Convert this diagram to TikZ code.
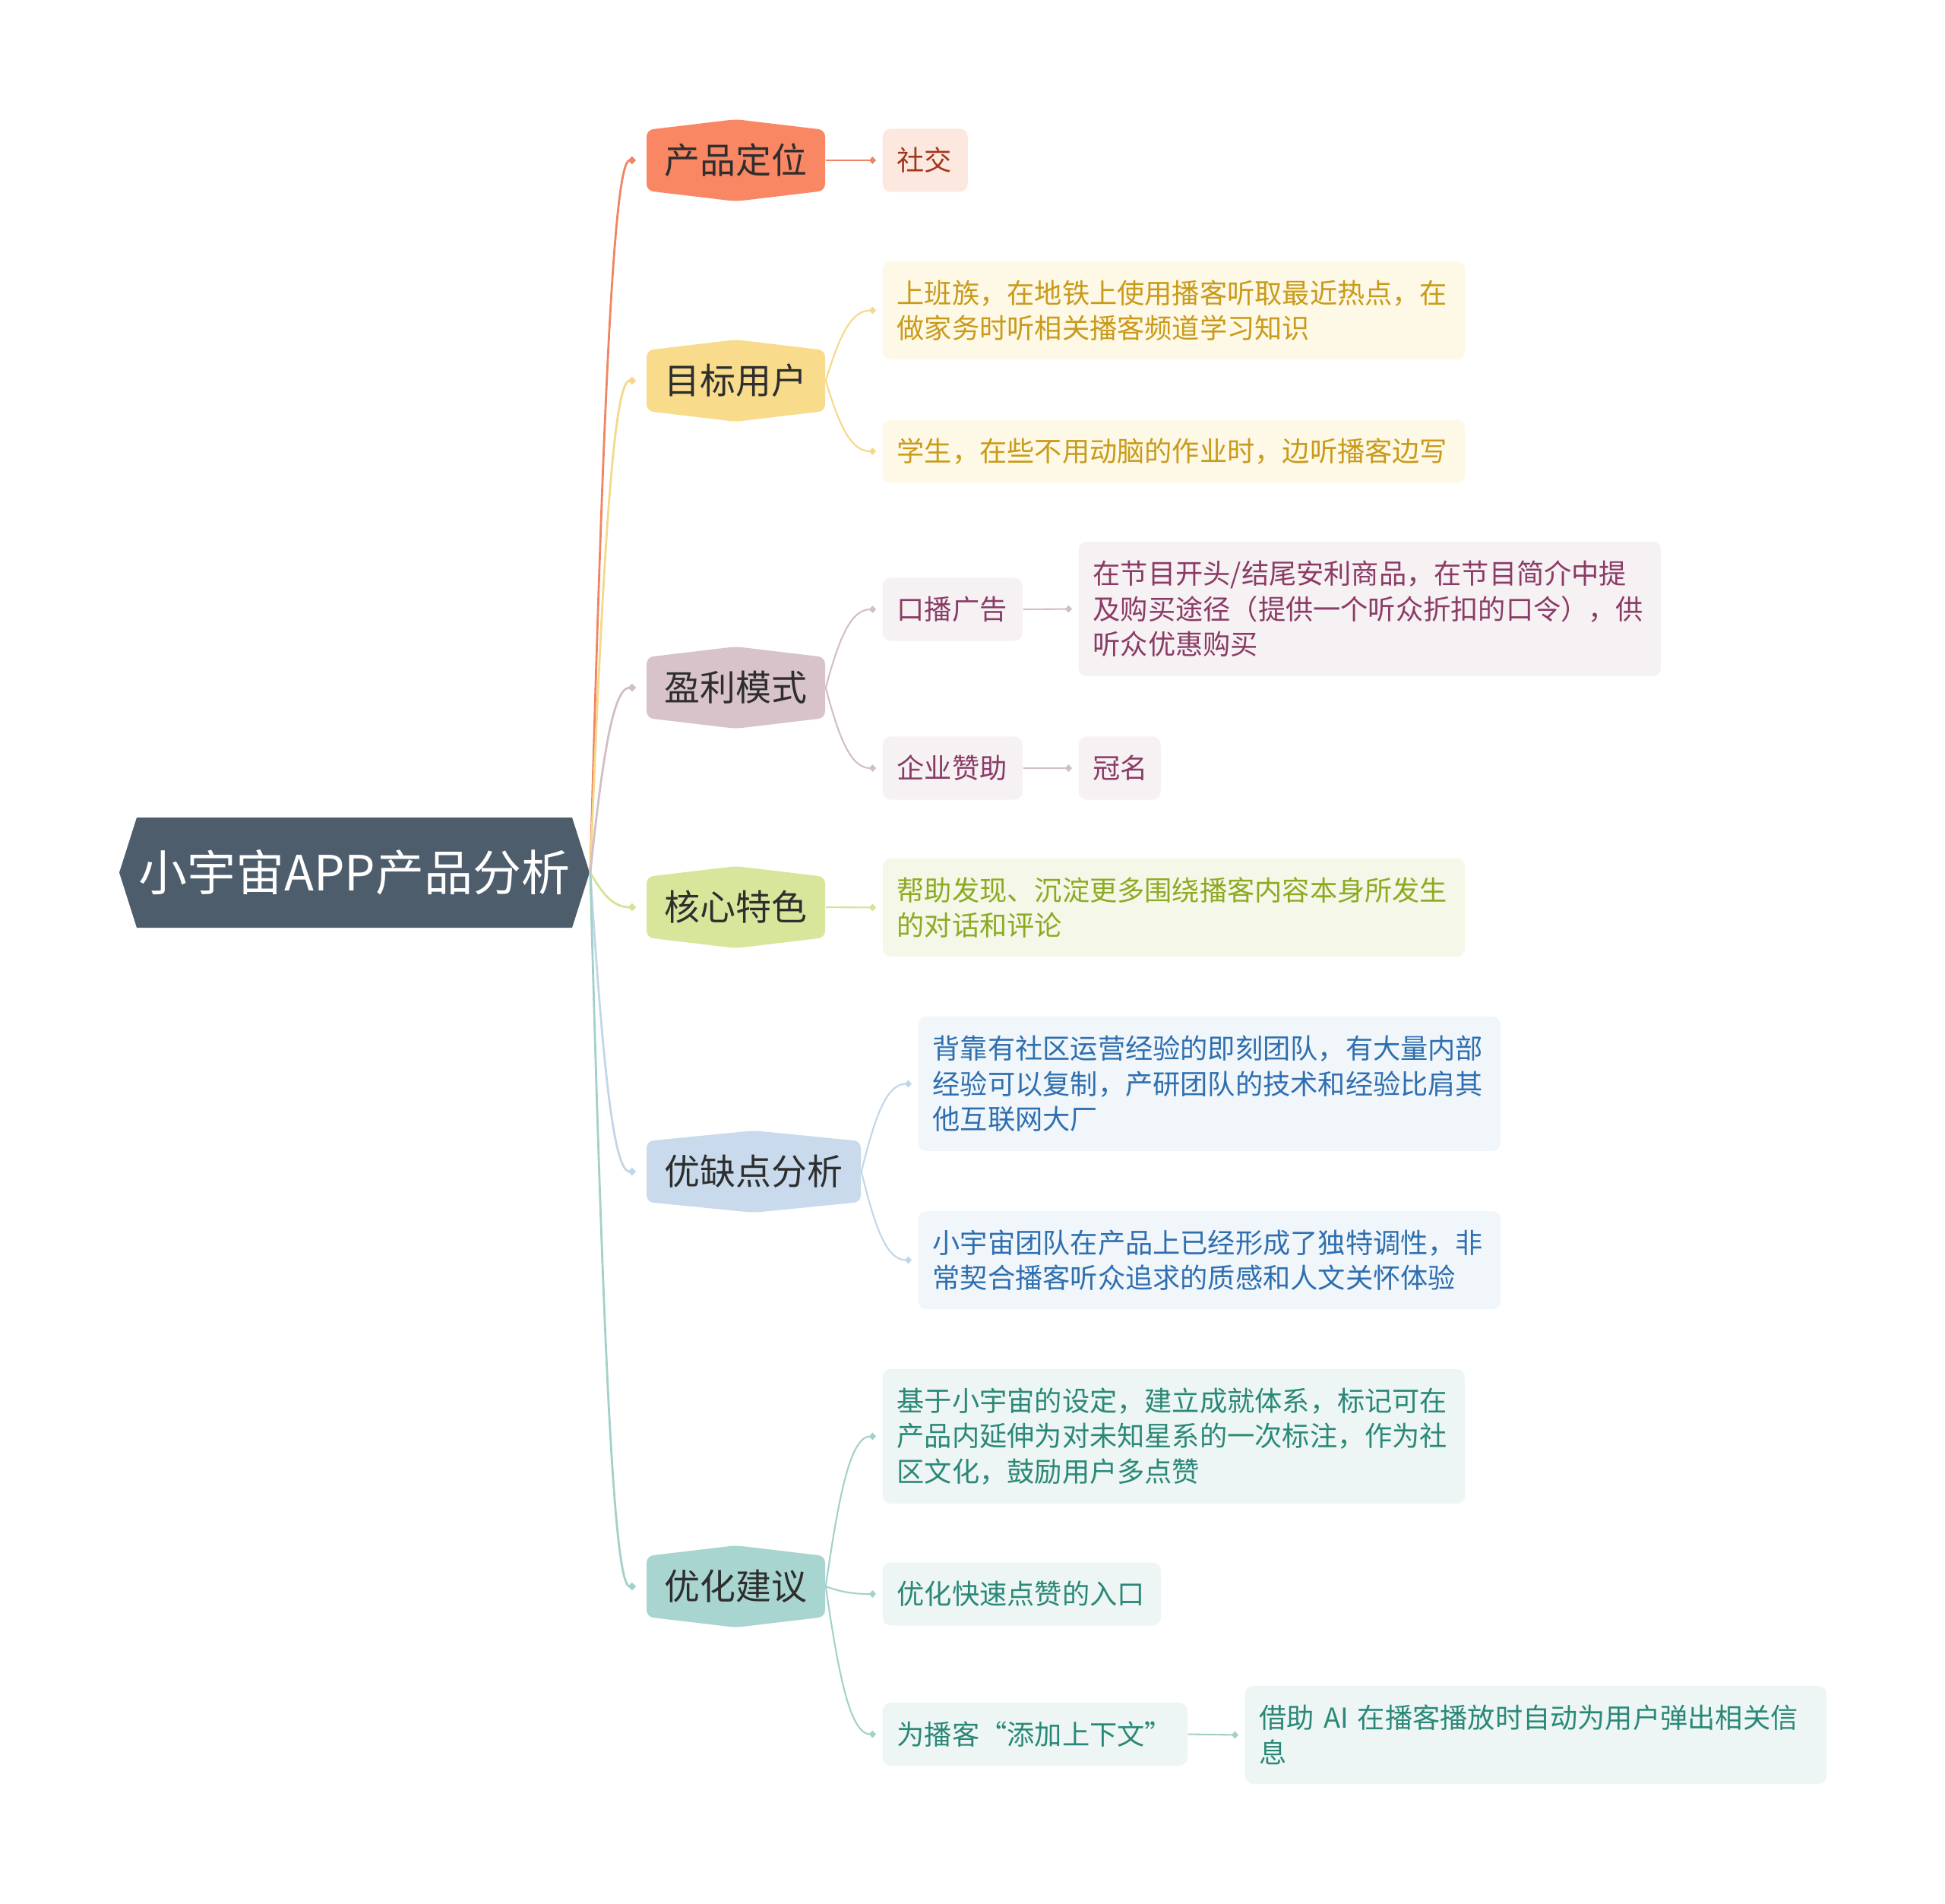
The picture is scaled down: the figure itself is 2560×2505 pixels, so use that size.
\documentclass[tikz,border=0pt]{standalone}
\usepackage{fontspec}
\setmainfont{Noto Sans CJK SC}
\usetikzlibrary{arrows.meta,calc}
\definecolor{rootc}{HTML}{4D5D6B}
\definecolor{maintext}{HTML}{2E2E2E}
\definecolor{f1}{HTML}{FA8764}
\definecolor{f2}{HTML}{F8DC8C}
\definecolor{f3}{HTML}{D8C3CB}
\definecolor{f4}{HTML}{D8E69B}
\definecolor{f5}{HTML}{C8DAEB}
\definecolor{f6}{HTML}{A8D5CF}
\definecolor{k1}{HTML}{F08565}
\definecolor{k2}{HTML}{F5D88A}
\definecolor{k3}{HTML}{D2BEC6}
\definecolor{k4}{HTML}{D4E398}
\definecolor{k5}{HTML}{C2D6E8}
\definecolor{k6}{HTML}{A3D1CA}
\definecolor{l1}{HTML}{FDE8E0}
\definecolor{l2}{HTML}{FEF8E6}
\definecolor{l3}{HTML}{F6F1F3}
\definecolor{l4}{HTML}{F5F8E9}
\definecolor{l5}{HTML}{F1F6FA}
\definecolor{l6}{HTML}{EDF6F4}
\definecolor{t1}{HTML}{A2361C}
\definecolor{t2}{HTML}{C99B1A}
\definecolor{t3}{HTML}{8A3B66}
\definecolor{t4}{HTML}{8CAA22}
\definecolor{t5}{HTML}{2F6FB0}
\definecolor{t6}{HTML}{2B8878}
\newcommand{\hexfill}[4]{\fill[#1, rounded corners=2.5pt] (#2,#3-40) -- (#2+#4/2,#3-54) -- (#2+#4,#3-40) -- (#2+#4,#3+40) -- (#2+#4/2,#3+54) -- (#2,#3+40) -- cycle;}
\begin{document}
\begin{tikzpicture}[x=0.01cm,y=-0.01cm,
  mainnode/.style={inner sep=0pt, minimum height=1.08cm, font=\fontsize{13.35pt}{16pt}\selectfont, text=maintext},
  leaf/.style={rounded corners=3pt, inner xsep=0.19cm, inner ysep=0pt, anchor=west, align=left, font=\fontsize{10.3pt}{13.2pt}\selectfont},
  oneline/.style={minimum height=0.83cm},
  twoline/.style={minimum height=1.29cm},
  threeline/.style={minimum height=1.77cm},
  rconn/.style={line width=0.8pt, -{Diamond[length=3pt,width=3pt]}},
  cconn/.style={line width=0.6pt, -{Diamond[length=2.6pt,width=2.8pt]}}
]
\useasboundingbox (0,0) rectangle (2560,2505);
% root
\fill[rootc] (157,1148.5) -- (180,1076) -- (753,1076) -- (776,1148.5) -- (753,1221) -- (180,1221) -- cycle;
\node[inner sep=0pt, minimum width=6.19cm, minimum height=1.45cm, text=white, font=\fontsize{18.2pt}{22pt}\selectfont] (root) at (466.5,1148.5) {小宇宙APP产品分析};
% main topics
\hexfill{f1}{851}{211}{235}
\node[mainnode, minimum width=2.35cm] (m1) at (968.5,211) {产品定位};
\hexfill{f2}{851}{501}{235}
\node[mainnode, minimum width=2.35cm] (m2) at (968.5,501) {目标用户};
\hexfill{f3}{851}{905}{235}
\node[mainnode, minimum width=2.35cm] (m3) at (968.5,905) {盈利模式};
\hexfill{f4}{851}{1194}{235}
\node[mainnode, minimum width=2.35cm] (m4) at (968.5,1194) {核心特色};
\hexfill{f5}{851}{1542}{282}
\node[mainnode, minimum width=2.82cm] (m5) at (992,1542) {优缺点分析};
\hexfill{f6}{851}{2088}{235}
\node[mainnode, minimum width=2.35cm] (m6) at (968.5,2088) {优化建议};
% leaves
\node[leaf, oneline, fill=l1, text=t1, text width=0.74cm] (s1) at (1161,211) {社交};
\node[leaf, twoline, fill=l2, text=t2, text width=7.28cm] (u1) at (1161,408.5) {上班族，在地铁上使用播客听取最近热点，在\\做家务时听相关播客频道学习知识};
\node[leaf, oneline, fill=l2, text=t2, text width=7.28cm] (u2) at (1161,594) {学生，在些不用动脑的作业时，边听播客边写};
\node[leaf, oneline, fill=l3, text=t3, text width=1.46cm] (p1) at (1161,802) {口播广告};
\node[leaf, threeline, fill=l3, text=t3, text width=7.28cm] (p1a) at (1419,801.5) {在节目开头/结尾安利商品，在节目简介中提\\及购买途径（提供一个听众折扣的口令），供\\听众优惠购买};
\node[leaf, oneline, fill=l3, text=t3, text width=1.46cm] (p2) at (1161,1011) {企业赞助};
\node[leaf, oneline, fill=l3, text=t3, text width=0.70cm] (p2a) at (1419,1011) {冠名};
\node[leaf, twoline, fill=l4, text=t4, text width=7.28cm] (k1) at (1161,1194.5) {帮助发现、沉淀更多围绕播客内容本身所发生\\的对话和评论};
\node[leaf, threeline, fill=l5, text=t5, text width=7.28cm] (y1) at (1208,1426.5) {背靠有社区运营经验的即刻团队，有大量内部\\经验可以复制，产研团队的技术和经验比肩其\\他互联网大厂};
\node[leaf, twoline, fill=l5, text=t5, text width=7.28cm] (y2) at (1208,1658.5) {小宇宙团队在产品上已经形成了独特调性，非\\常契合播客听众追求的质感和人文关怀体验};
\node[leaf, threeline, fill=l6, text=t6, text width=7.28cm] (o1) at (1161,1890.5) {基于小宇宙的设定，建立成就体系，标记可在\\产品内延伸为对未知星系的一次标注，作为社\\区文化，鼓励用户多点赞};
\node[leaf, oneline, fill=l6, text=t6, text width=3.28cm] (o2) at (1161,2098) {优化快速点赞的入口};
\node[leaf, oneline, fill=l6, text=t6, text width=3.63cm] (o3) at (1161,2282.5) {为播客“添加上下文”};
\node[leaf, twoline, fill=l6, text=t6, text width=7.27cm] (o3a) at (1638,2283.5) {借助 AI 在播客播放时自动为用户弹出相关信\\息};
% root connectors
\draw[rconn, k1] (root.east) .. controls +(15.5,-562) and +(-31,0) .. ($(m1.west)+(-13,0)$);
\draw[rconn, k2] (root.east) .. controls +(15.5,-388) and +(-31,0) .. ($(m2.west)+(-13,0)$);
\draw[rconn, k3] (root.east) .. controls +(15.5,-146) and +(-31,0) .. ($(m3.west)+(-13,0)$);
\draw[rconn, k4] (root.east) .. controls +(15.5,27) and +(-31,0) .. ($(m4.west)+(-13,0)$);
\draw[rconn, k5] (root.east) .. controls +(15.5,236) and +(-31,0) .. ($(m5.west)+(-13,0)$);
\draw[rconn, k6] (root.east) .. controls +(15.5,564) and +(-31,0) .. ($(m6.west)+(-13,0)$);
% child connectors
\draw[cconn, k1] (m1.east) -- ($(s1.west)+(-8,0)$);
\draw[cconn, k2] (m2.east) .. controls +(17,-55) and +(-34,0) .. ($(u1.west)+(-8,0)$);
\draw[cconn, k2] (m2.east) .. controls +(17,56) and +(-34,0) .. ($(u2.west)+(-8,0)$);
\draw[cconn, k3] (m3.east) .. controls +(17,-62) and +(-34,0) .. ($(p1.west)+(-8,0)$);
\draw[cconn, k3] (m3.east) .. controls +(17,64) and +(-34,0) .. ($(p2.west)+(-8,0)$);
\draw[cconn, k3] (p1.east) -- ($(p1a.west)+(-8,0)$);
\draw[cconn, k3] (p2.east) -- ($(p2a.west)+(-8,0)$);
\draw[cconn, k4] (m4.east) -- ($(k1.west)+(-8,0)$);
\draw[cconn, k5] (m5.east) .. controls +(17,-69) and +(-34,0) .. ($(y1.west)+(-8,0)$);
\draw[cconn, k5] (m5.east) .. controls +(17,70) and +(-34,0) .. ($(y2.west)+(-8,0)$);
\draw[cconn, k6] (m6.east) .. controls +(17,-118) and +(-34,0) .. ($(o1.west)+(-8,0)$);
\draw[cconn, k6] (m6.east) .. controls +(17,6) and +(-34,0) .. ($(o2.west)+(-8,0)$);
\draw[cconn, k6] (m6.east) .. controls +(17,117) and +(-34,0) .. ($(o3.west)+(-8,0)$);
\draw[cconn, k6] (o3.east) -- ($(o3a.west)+(-8,0)$);
\end{tikzpicture}
\end{document}
